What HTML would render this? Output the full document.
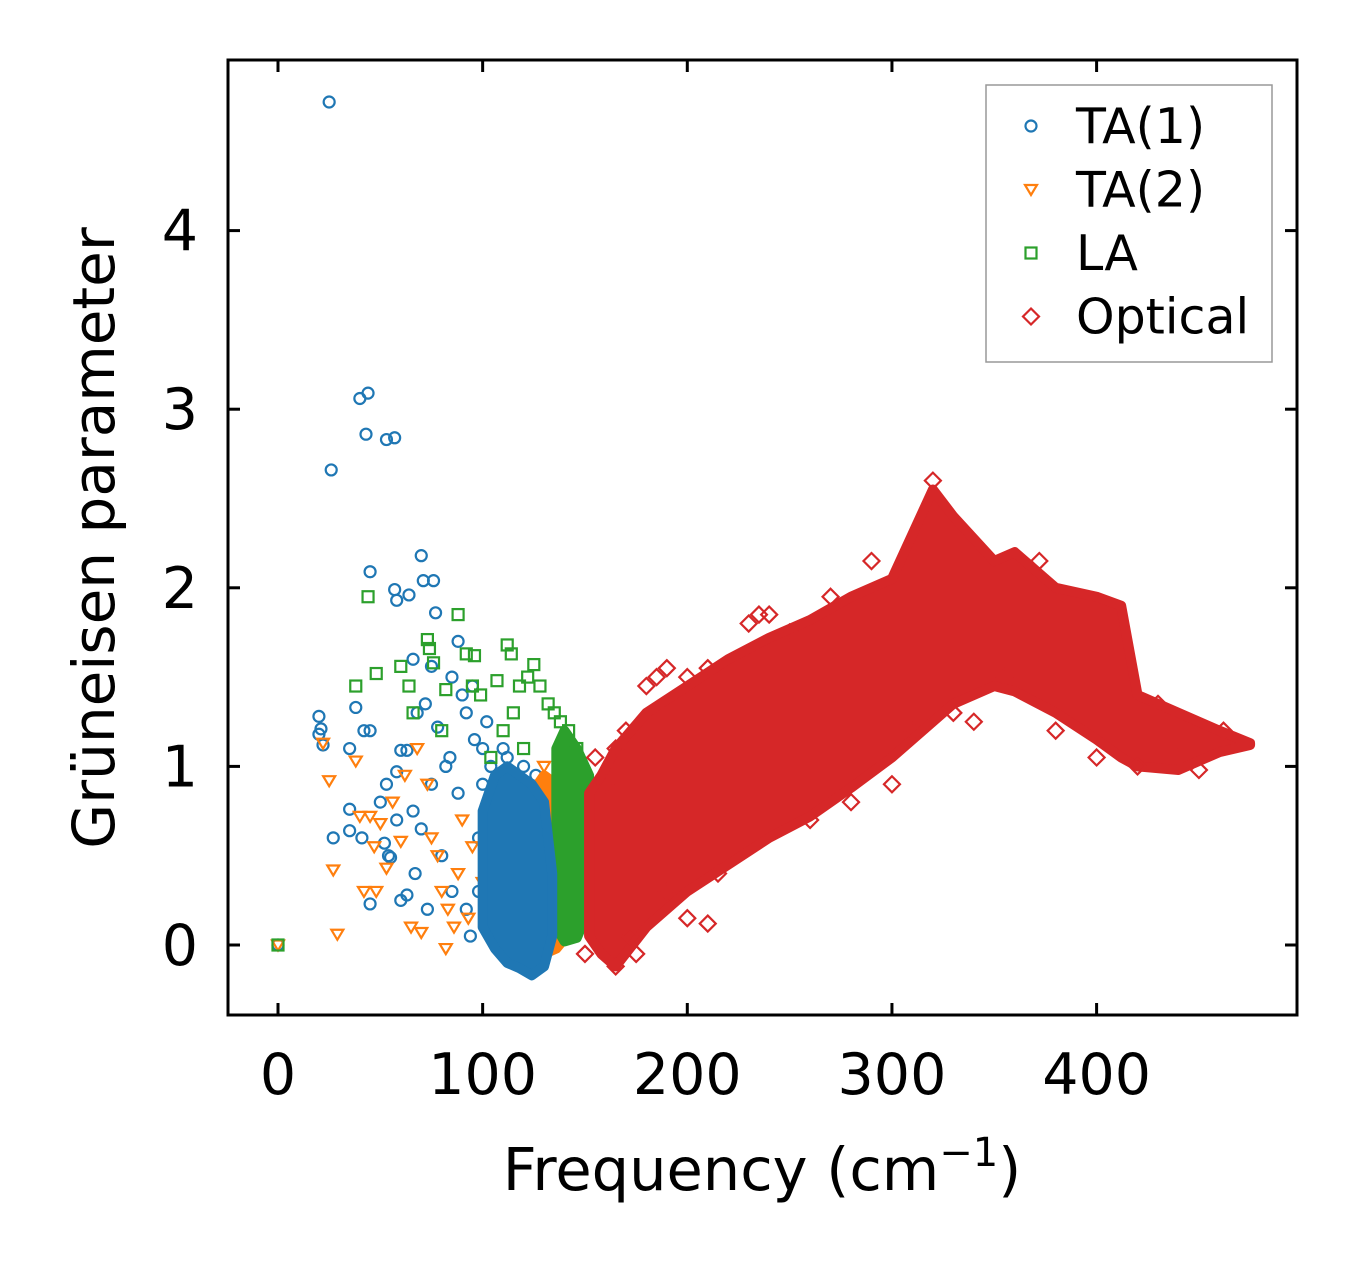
<!DOCTYPE html>
<html><head><meta charset="utf-8"><style>
body{margin:0;background:#fff;}
svg{display:block;font-family:"DejaVu Sans","Liberation Sans",sans-serif;}
</style></head><body>
<svg id="chart" width="1357" height="1264" viewBox="0 0 1357 1264">
<g id="marks"></g>
<g id="axes"></g>
</svg>
<script>
// ---- data ----
const xTicks=[0,100,200,300,400];
const yTicks=[0,1,2,3,4];
const ta1Freq=[25,26,40,44,43,53,57,45,57,58,64,70,71,76,77,20,21,20,22,35,38,42,45,35,35,27,41,45,54,52,55,50,58,60,63,66,68,72,75,78,82,85,88,90,92,95,63,60,67,73,80,85,92,98,100,102,88,70,75,0,58,66,53,84,96,104,108,112,116,94,100,104,120,126,132,98,110];
const ta1Val=[4.72,2.66,3.06,3.09,2.86,2.83,2.84,2.09,1.99,1.93,1.96,2.18,2.04,2.04,1.86,1.28,1.21,1.18,1.12,1.1,1.33,1.2,1.2,0.76,0.64,0.6,0.6,0.23,0.5,0.57,0.49,0.8,0.7,1.09,1.09,1.6,1.3,1.35,1.56,1.22,1.0,1.5,1.7,1.4,1.3,1.45,0.28,0.25,0.4,0.2,0.5,0.3,0.2,0.6,1.1,1.25,0.85,0.65,0.9,0,0.97,0.75,0.9,1.05,1.15,1.0,0.95,1.05,0.9,0.05,0.9,0.85,1.0,0.95,0.85,0.3,1.1];
const ta2Freq=[25,27,29,22,38,40,42,45,47,48,50,53,56,60,62,65,68,70,73,75,78,80,83,86,88,90,95,82,100,110,120,0,93,105,130,136];
const ta2Val=[0.92,0.42,0.06,1.13,1.03,0.72,0.3,0.72,0.55,0.3,0.68,0.43,0.8,0.58,0.95,0.1,1.1,0.07,0.9,0.6,0.5,0.3,0.2,0.1,0.4,0.7,0.55,-0.02,0.35,0.6,0.8,0,0.15,0.7,1.0,0.85];
const laFreq=[44,38,48,60,64,66,73,74,76,82,88,92,96,95,99,107,112,114,118,122,125,128,132,110,115,120,0,80,104,135,138,142,146,150,148];
const laVal=[1.95,1.45,1.52,1.56,1.45,1.3,1.71,1.66,1.58,1.43,1.85,1.63,1.62,1.45,1.4,1.48,1.68,1.63,1.45,1.5,1.57,1.45,1.35,1.2,1.3,1.1,0,1.2,1.05,1.3,1.25,1.2,1.1,0.9,0.15];
const opFreq=[150,155,165,170,180,185,190,200,210,230,235,250,290,320,200,210,190,280,300,340,400,450,175,165,260,310,372,430,462,160,172,215,240,270,330,380,420,440,355];
const opVal=[-0.05,1.05,1.1,1.2,1.45,1.5,1.55,1.5,1.55,1.8,1.85,1.75,2.15,2.6,0.15,0.12,0.3,0.8,0.9,1.25,1.05,0.98,-0.05,-0.12,0.7,1.2,2.15,1.35,1.2,0.9,0.05,0.4,1.85,1.95,1.3,1.2,1.0,1.05,1.5];
// dense bands (freq, upper, lower)
const ta1BandF=[100,106,112,118,124,130,134];
const ta1BandU=[0.75,0.95,1.0,0.95,0.9,0.8,0.4];
const ta1BandL=[0.1,-0.02,-0.1,-0.13,-0.17,-0.12,0.05];
const ta2BandF=[124,130,136,141];
const ta2BandU=[0.85,0.95,0.9,0.75];
const ta2BandL=[0.0,-0.05,-0.02,0.05];
const laBandF=[136,140,146,152];
const laBandU=[1.1,1.2,1.1,0.95];
const laBandL=[0.1,0.02,0.04,0.2];
const opBandF=[152,158,165,180,200,220,240,260,280,300,320,330,350,360,380,400,412,420,440,460,475];
const opBandU=[0.85,0.95,1.1,1.3,1.45,1.6,1.72,1.82,1.95,2.05,2.55,2.4,2.15,2.2,2.0,1.95,1.9,1.4,1.3,1.2,1.13];
const opBandL=[0.05,-0.05,-0.12,0.1,0.3,0.45,0.6,0.72,0.88,1.05,1.25,1.35,1.45,1.42,1.3,1.15,1.05,1.0,0.98,1.08,1.12];

// ---- scales ----
const X0=228,X1=1297,Y0=60,Y1=1015;
const xs=v=>278+v*2.0465;
const ys=v=>945-v*178.6;
const NS='http://www.w3.org/2000/svg';
const marks=document.getElementById('marks'),axes=document.getElementById('axes');
function mk(tag,attrs,parent){const e=document.createElementNS(NS,tag);for(const k in attrs)e.setAttribute(k,attrs[k]);parent.appendChild(e);return e;}
const C={ta1:'#1f77b4',ta2:'#ff7f0e',la:'#2ca02c',op:'#d62728'};
function band(F,U,L,col,name){
  let p=F.map((f,i)=>xs(f)+','+ys(U[i]));
  for(let i=F.length-1;i>=0;i--)p.push(xs(F[i])+','+ys(L[i]));
  const e=mk('polygon',{points:p.join(' '),fill:col,stroke:col,'stroke-width':10,'stroke-linejoin':'round'},marks);
  
  
}
function marker(type,cx,cy,col,par){
  let e;
  if(type==='o')e=mk('circle',{cx:cx,cy:cy,r:5.5,fill:'none',stroke:col,'stroke-width':2.2},par);
  else if(type==='v')e=mk('polygon',{points:`${cx-6},${cy-4.5} ${cx+6},${cy-4.5} ${cx},${cy+5.5}`,fill:'none',stroke:col,'stroke-width':2.2},par);
  else if(type==='s')e=mk('rect',{x:cx-5.5,y:cy-5.5,width:11,height:11,fill:'none',stroke:col,'stroke-width':2.2},par);
  else e=mk('polygon',{points:`${cx},${cy-8} ${cx+8},${cy} ${cx},${cy+8} ${cx-8},${cy}`,fill:'none',stroke:col,'stroke-width':2.2},par);
  return e;
}
function series(F,V,type,col,name){
  F.forEach((f,i)=>{const e=marker(type,xs(f),ys(V[i]),col,marks);
    
    });
}
series(ta1Freq,ta1Val,'o',C.ta1,'ta1-point');
series(ta2Freq,ta2Val,'v',C.ta2,'ta2-point');
band(ta2BandF,ta2BandU,ta2BandL,C.ta2,'ta2-dense-band');
series(laFreq,laVal,'s',C.la,'la-point');
band(laBandF,laBandU,laBandL,C.la,'la-dense-band');
band(ta1BandF,ta1BandU,ta1BandL,C.ta1,'ta1-dense-band');
band(opBandF,opBandU,opBandL,C.op,'optical-dense-band');
series(opFreq,opVal,'d',C.op,'optical-point');

// ---- axes ----
const fr=mk('rect',{x:X0,y:Y0,width:X1-X0,height:Y1-Y0,fill:'none',stroke:'#000','stroke-width':3},axes);

xTicks.forEach(t=>{const x=xs(t);
  mk('line',{x1:x,x2:x,y1:Y1,y2:Y1-12,stroke:'#000','stroke-width':3},axes);
  mk('line',{x1:x,x2:x,y1:Y0,y2:Y0+12,stroke:'#000','stroke-width':3},axes);
  const tx=mk('text',{x:x,y:1094,'font-size':57,'text-anchor':'middle'},axes);tx.textContent=t;
  });
yTicks.forEach(t=>{const y=ys(t);
  mk('line',{x1:X0,x2:X0+12,y1:y,y2:y,stroke:'#000','stroke-width':3},axes);
  mk('line',{x1:X1,x2:X1-12,y1:y,y2:y,stroke:'#000','stroke-width':3},axes);
  const tx=mk('text',{x:198,y:y+20,'font-size':57,'text-anchor':'end'},axes);tx.textContent=t;
  });
const xt=mk('text',{x:762,y:1190,'font-size':59,'text-anchor':'middle'},axes);
xt.innerHTML='Frequency (cm<tspan dy="-24" font-size="40">−1</tspan><tspan dy="24">)</tspan>';

const yt=mk('text',{x:0,y:0,'font-size':58,'text-anchor':'middle',transform:'translate(114,538) rotate(-90)'},axes);
yt.textContent='Grüneisen parameter';

// legend
const lg=mk('g',{},axes);

mk('rect',{x:986,y:85,width:286,height:277,fill:'#fff',stroke:'#999','stroke-width':1.5},lg);
[['TA(1)','o',C.ta1],['TA(2)','v',C.ta2],['LA','s',C.la],['Optical','d',C.op]].forEach((d,i)=>{
  const y=126+i*63.5;
  const g=mk('g',{},lg);
  
  marker(d[1],1031,y,d[2],g);
  const t=mk('text',{x:1076,y:y+17,'font-size':49},g);t.textContent=d[0];
});
</script>
</body></html>
